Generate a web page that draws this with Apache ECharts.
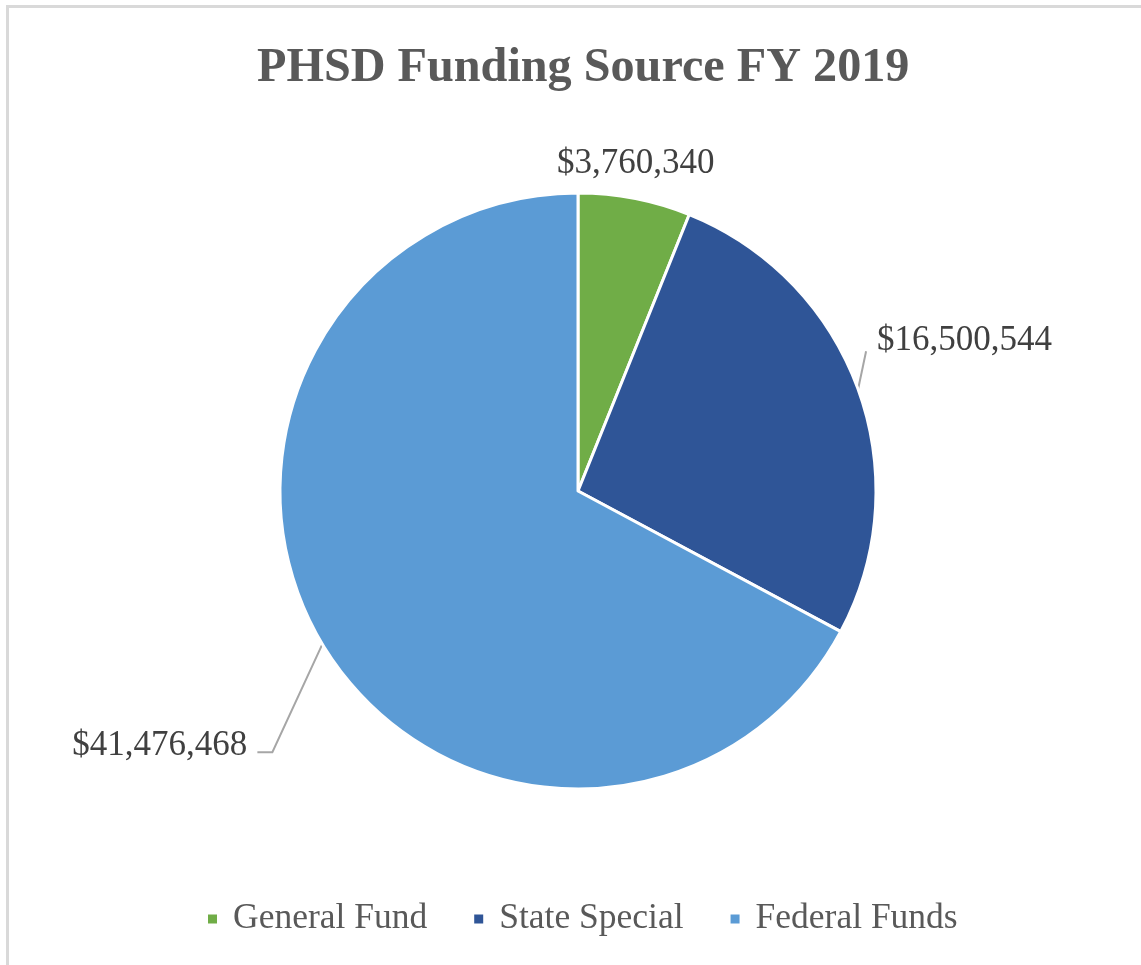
<!DOCTYPE html>
<html>
<head>
<meta charset="utf-8">
<script src="https://cdn.jsdelivr.net/npm/echarts@6/dist/echarts.min.js"></script>
<style>
html,body{margin:0;padding:0;width:1141px;height:965px;overflow:hidden;background:#fff;}
#frame{position:absolute;left:6px;top:5px;width:1200px;height:1100px;border:3px solid #D9D9D9;box-sizing:border-box;}
#chart{position:absolute;left:0;top:0;width:1141px;height:965px;}
</style>
</head>
<body>
<div id="frame"></div>
<div id="chart"></div>
<script>
const titleText = 'PHSD Funding Source FY 2019';
const categories = ['General Fund', 'State Special', 'Federal Funds'];
const values = [3760340, 16500544, 41476468];
const colors = ['#70AD47', '#2F5597', '#5B9BD5'];

const CX = 578, CY = 491, R = 298;
// label placement relative to the slice's outer mid point (style only)
const labelStyle = [
  {dx: 1, dy: -35, align: 'center', line: null},
  {dx: 19, dy: -48, align: 'left', line: [[8, -38]]},
  {dx: -75, dy: 102, align: 'right', line: [[-50, 108], [-65, 108]]}
];

const total = values.reduce((a, b) => a + b, 0);
function edgePoint(i) {
  let cum = 0;
  for (let k = 0; k < i; k++) cum += values[k];
  const a = (cum + values[i] / 2) / total * 2 * Math.PI; // clockwise from top
  return [CX + R * Math.sin(a), CY - R * Math.cos(a)];
}
function fmt(v) { return '$' + v.toLocaleString('en-US'); }

const chart = echarts.init(document.getElementById('chart'));
chart.setOption({
  backgroundColor: 'transparent',
  animation: false,
  title: {
    text: titleText, left: 252, top: 40,
    textStyle: {fontFamily: 'Liberation Serif', fontWeight: 'bold', fontSize: 48.2, color: '#595959'}
  },
  legend: {
    data: categories, left: 201, top: 896,
    icon: 'path://M0,0 L10,0 L10,10 L0,10 Z', symbolKeepAspect: true,
    itemWidth: 31, itemHeight: 11, itemGap: 45,
    textStyle: {fontFamily: 'Liberation Serif', fontSize: 35.5, color: '#595959'}
  },
  series: [{
    type: 'pie',
    center: [CX, CY], radius: R,
    startAngle: 90, clockwise: true,
    avoidLabelOverlap: false,
    itemStyle: {borderColor: '#fff', borderWidth: 3},
    label: {
      show: true, position: 'outside',
      formatter: p => fmt(p.value),
      fontFamily: 'Liberation Serif', fontSize: 35, color: '#404040'
    },
    labelLine: {show: true, length: 10, length2: 10, lineStyle: {color: '#A6A6A6', width: 2}},
    emphasis: {disabled: true},
    labelLayout: function (params) {
      const i = params.dataIndex;
      const e = edgePoint(i);
      const s = labelStyle[i];
      const out = {x: e[0] + s.dx, y: e[1] + s.dy, align: s.align, verticalAlign: 'middle'};
      if (s.line) {
        out.labelLinePoints = [e].concat(s.line.map(o => [e[0] + o[0], e[1] + o[1]]));
      }
      return out;
    },
    data: categories.map((c, i) => ({
      name: c, value: values[i],
      itemStyle: {color: colors[i]},
      labelLine: {show: i !== 0}
    }))
  }]
});
</script>
</body>
</html>
